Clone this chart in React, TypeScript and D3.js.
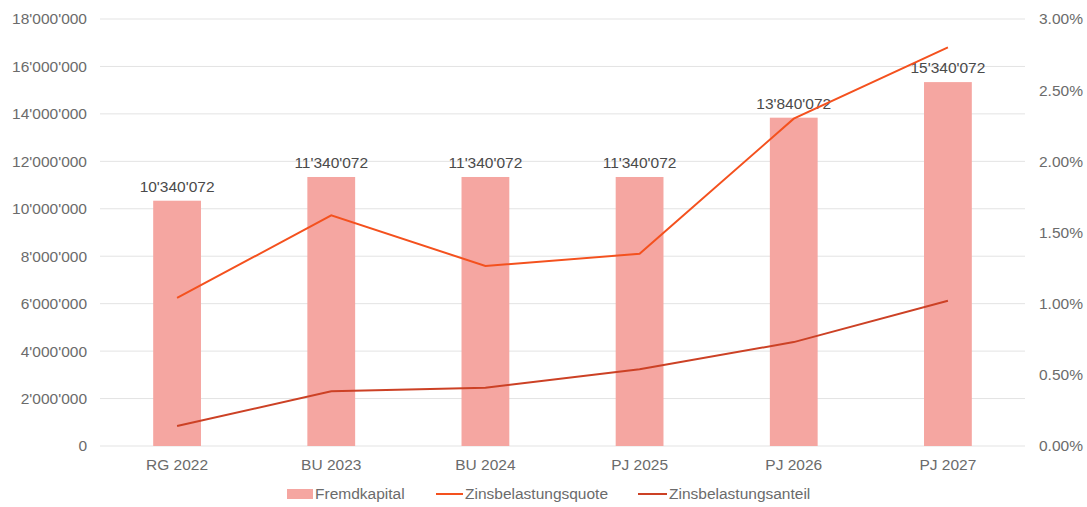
import React from 'react';
import * as d3 from 'd3';

const WIDTH = 1087;
const HEIGHT = 507;

// Werte
const categories = ['RG 2022', 'BU 2023', 'BU 2024', 'PJ 2025', 'PJ 2026', 'PJ 2027'];
const fremdkapital = [10340072, 11340072, 11340072, 11340072, 13840072, 15340072];
const zinsbelastungsquote = [0.0104, 0.0162, 0.01265, 0.0135, 0.023, 0.028];
const zinsbelastungsanteil = [0.0014, 0.00385, 0.0041, 0.0054, 0.0073, 0.0102];
const leftTicks = [0, 2e6, 4e6, 6e6, 8e6, 10e6, 12e6, 14e6, 16e6, 18e6];
const rightTicks = [0, 0.005, 0.01, 0.015, 0.02, 0.025, 0.03];
const legendItems = ['Fremdkapital', 'Zinsbelastungsquote', 'Zinsbelastungsanteil'];

const barColor = '#f5a6a1';
const quoteColor = '#f4511e';
const anteilColor = '#cc4125';
const FONT = '"Liberation Sans", Arial, sans-serif';
const FS = 15.5;

const margin = { l: 100, r: 62, t: 19, b: 61 };

// Zahlen im Schweizer Format 10'000'000
const swiss = (v: number) => d3.format(',')(v).replace(/,/g, "'");

const App = () => {
  const w = WIDTH - margin.l - margin.r;
  const h = HEIGHT - margin.t - margin.b;

  const x = d3.scaleBand().domain(categories).range([0, w]);
  const yL = d3.scaleLinear().domain([0, 18e6]).range([h, 0]);
  const yR = d3.scaleLinear().domain([0, 0.03]).range([h, 0]);
  const barW = x.bandwidth() * 0.31;
  const cx = (c: string) => (x(c) as number) + x.bandwidth() / 2;

  const line = d3
    .line<number>()
    .x((_, i) => cx(categories[i]))
    .y((d) => yR(d));

  // Legenden-Positionen (Symbol links, Text rechts)
  const legendX = [287, 436, 638];
  const swatchW = [26, 27, 29];

  return (
    <svg
      width={WIDTH}
      height={HEIGHT}
      style={{ position: 'absolute', left: 0, top: 0, background: '#fff' }}
      fontFamily={FONT}
    >
      <g transform={`translate(${margin.l},${margin.t})`}>
        {leftTicks.map((t) => (
          <g key={`l-${t}`}>
            <line x1={0} x2={w} y1={yL(t)} y2={yL(t)} stroke="#e3e3e3" strokeWidth={1} />
            <text x={-13} y={yL(t)} dy="0.35em" textAnchor="end" fontSize={FS} fill="#6b6b6b">
              {swiss(t)}
            </text>
          </g>
        ))}
        {rightTicks.map((t) => (
          <text key={`r-${t}`} x={w + 14} y={yR(t)} dy="0.35em" fontSize={FS} fill="#6b6b6b">
            {d3.format('.2%')(t)}
          </text>
        ))}
        {categories.map((c) => (
          <text key={c} x={cx(c)} y={h + 24} textAnchor="middle" fontSize={FS} fill="#6b6b6b">
            {c}
          </text>
        ))}
        {fremdkapital.map((v, i) => (
          <g key={`b-${i}`}>
            <rect
              x={cx(categories[i]) - barW / 2}
              y={yL(v)}
              width={barW}
              height={h - yL(v)}
              fill={barColor}
            />
            <text
              x={cx(categories[i])}
              y={yL(v) - 9}
              textAnchor="middle"
              fontSize={FS}
              fill="#4a4a4a"
            >
              {swiss(v)}
            </text>
          </g>
        ))}
        <path d={line(zinsbelastungsquote) || ''} fill="none" stroke={quoteColor} strokeWidth={2} />
        <path d={line(zinsbelastungsanteil) || ''} fill="none" stroke={anteilColor} strokeWidth={2} />
      </g>
      <g transform={`translate(0,${HEIGHT - 13})`}>
        {legendItems.map((name, i) => (
          <g key={name} transform={`translate(${legendX[i]},0)`}>
            {i === 0 ? (
              <rect x={0} y={-5} width={swatchW[i]} height={10} fill={barColor} />
            ) : (
              <line
                x1={0}
                x2={swatchW[i]}
                y1={0}
                y2={0}
                stroke={i === 1 ? quoteColor : anteilColor}
                strokeWidth={2}
              />
            )}
            <text x={swatchW[i] + 2} y={0} dy="0.35em" fontSize={FS} fill="#6b6b6b">
              {name}
            </text>
          </g>
        ))}
      </g>
    </svg>
  );
};

export default App;
